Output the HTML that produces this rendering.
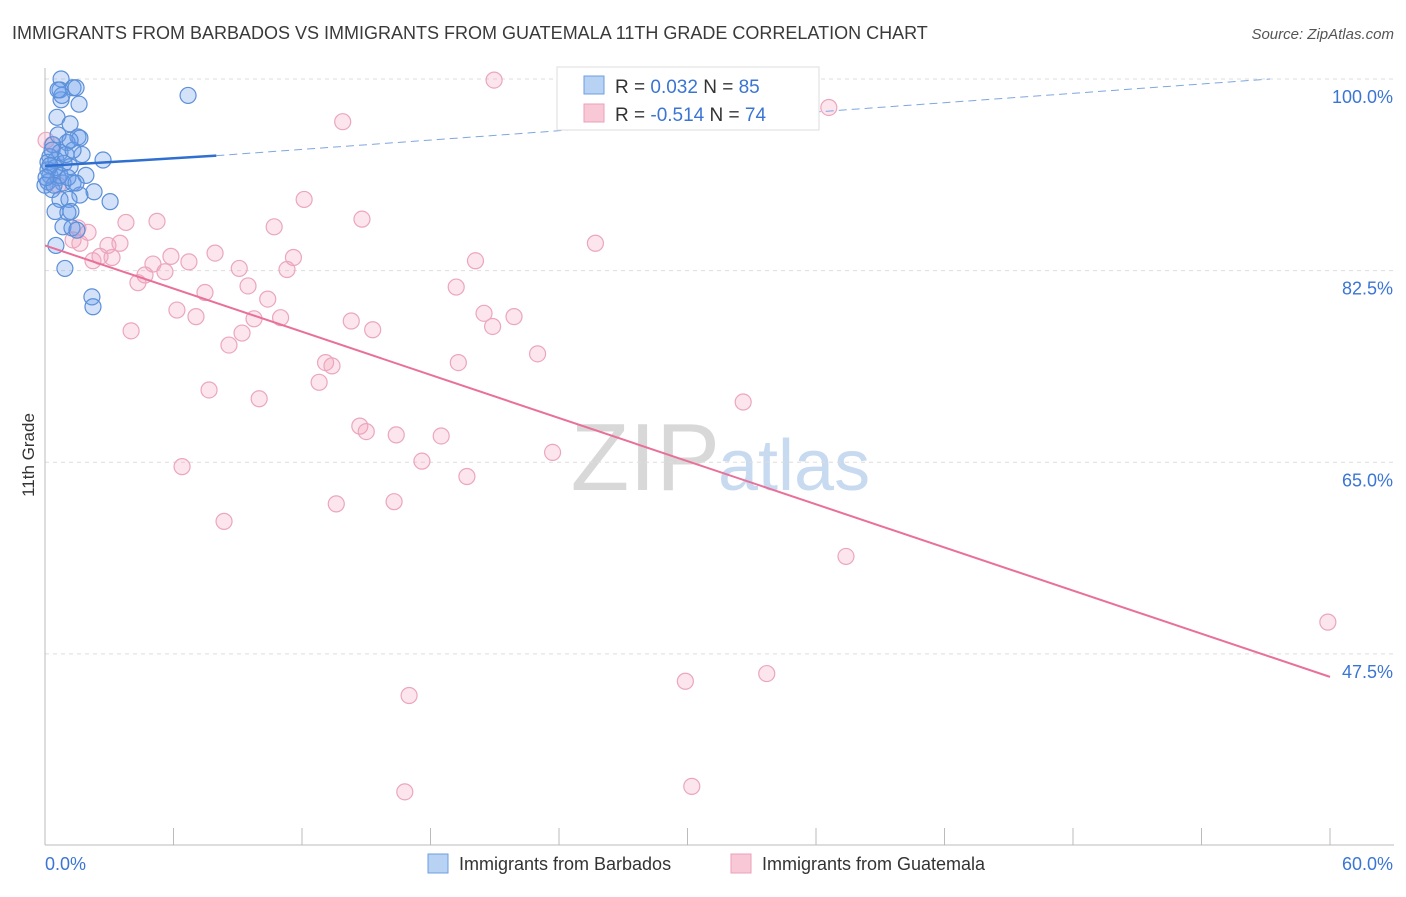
<!DOCTYPE html>
<html><head><meta charset="utf-8"><style>
body{margin:0;background:#fff;font-family:"Liberation Sans",sans-serif;}
svg text{font-family:"Liberation Sans",sans-serif;}
</style></head><body>
<svg id="chart" width="1406" height="892" xmlns="http://www.w3.org/2000/svg">
<text x="12" y="39" font-size="18" fill="#3a3a3a">IMMIGRANTS FROM BARBADOS VS IMMIGRANTS FROM GUATEMALA 11TH GRADE CORRELATION CHART</text>
<text x="1394" y="39" font-size="15" fill="#555" text-anchor="end" font-style="italic">Source: ZipAtlas.com</text>
<text x="720" y="490" font-size="96" fill="#d8d8d8" text-anchor="end" font-family="Liberation Serif">ZIP</text>
<text x="718" y="490" font-size="72" fill="#c8daf0">atlas</text>
<g id="grid"></g>
<g id="axes"></g>
<g id="pts"></g>
<g id="lines"></g>
<text x="34" y="455" font-size="17" fill="#333" text-anchor="middle" transform="rotate(-90 34 455)">11th Grade</text>
<g>
<rect x="557" y="67" width="262" height="63" fill="#fff" stroke="#ddd"/>
<rect x="584" y="76" width="20" height="18" fill="#b8d2f4" stroke="#6d9ee0"/>
<rect x="584" y="104" width="20" height="18" fill="#f8c8d6" stroke="#eba0b8"/>
<text x="615" y="93" font-size="19" fill="#333">R = <tspan fill="#3b75d4">0.032</tspan>   N = <tspan fill="#3b75d4">85</tspan></text>
<text x="615" y="121" font-size="19" fill="#333">R = <tspan fill="#3b75d4">-0.514</tspan>   N = <tspan fill="#3b75d4">74</tspan></text>
</g>
<g>
<rect x="428" y="854" width="20" height="19" fill="#b8d2f4" stroke="#6d9ee0"/>
<text x="459" y="870" font-size="18" fill="#333">Immigrants from Barbados</text>
<rect x="731" y="854" width="20" height="19" fill="#f8c8d6" stroke="#eba0b8"/>
<text x="762" y="870" font-size="18" fill="#333">Immigrants from Guatemala</text>
</g>
</svg>
<script>
const blueX=[0.75,0.70,1.31,1.45,0.75,6.68,1.59,0.56,1.17,1.54,1.63,1.03,0.37,0.70,0.23,1.73,2.71,0.14,0.51,0.89,1.17,1.91,0.23,0.61,0.14,0.84,1.31,0.33,2.29,1.63,0.70,1.12,3.04,0.47,1.07,1.21,0.84,1.26,1.49,0.51,0.93,2.19,2.24,0.14,0.47,0.70,0.0,0.33,0.98,1.31,0.61,0.79,0.42,1.07,1.45,0.61,1.17,0.23,0.05];
const blueY=[100,99.0,99.2,99.2,98.1,98.5,97.7,96.5,95.9,94.7,94.6,94.2,94.0,93.3,92.9,93.1,92.6,92.4,92.6,92.3,92.0,91.2,91.2,91.0,90.6,90.5,90.5,89.9,89.7,89.4,89.0,89.0,88.8,87.9,87.8,87.9,86.5,86.4,86.2,84.8,82.7,80.1,79.2,91.7,91.9,91.2,90.3,93.5,93.1,93.5,94.9,98.5,90.3,91.0,90.5,99.0,94.4,92.1,91.0];
const pinkX=[20.97,36.6,13.9,0.33,12.1,14.8,3.78,5.23,10.7,2.01,1.31,1.63,2.94,3.50,25.7,7.94,5.88,2.57,3.13,2.24,6.72,11.6,20.1,5.04,9.07,11.3,4.67,5.60,4.34,9.48,19.2,7.47,10.4,6.16,7.05,9.76,11.0,20.5,21.9,14.3,20.9,4.02,15.3,9.20,8.59,23.0,13.1,13.4,19.3,12.8,7.66,10.0,32.6,14.7,15.0,16.4,18.5,23.7,17.6,6.40,19.7,13.6,16.3,8.36,37.4,59.9,33.7,29.9,17.0,30.2,16.8,0.05,0.61,1.54];
const pinkY=[99.9,97.4,96.1,94.0,89.0,87.2,86.9,87.0,86.5,86.0,85.3,85.0,84.8,85.0,85.0,84.1,83.8,83.8,83.7,83.4,83.3,83.7,83.4,83.1,82.7,82.6,82.1,82.4,81.4,81.1,81.0,80.5,79.9,78.9,78.3,78.1,78.2,78.6,78.3,77.9,77.4,77.0,77.1,76.8,75.7,74.9,74.1,73.8,74.1,72.3,71.6,70.8,70.5,68.3,67.8,67.5,67.4,65.9,65.1,64.6,63.7,61.2,61.4,59.6,56.4,50.4,45.7,45.0,43.7,35.4,34.9,94.4,90.3,86.4];
const yTicks=[100,82.5,65,47.5];
const yTickLabels=["100.0%","82.5%","65.0%","47.5%"];
const xEnds=["0.0%","60.0%"];
const blueLine=[92.05,93.0];   // at x=0 and x=8
const blueDash=[93.0,100];     // from x=8 to x=57.2
const pinkLine=[84.8,45.4];    // at x=0 and x=60
const NS='http://www.w3.org/2000/svg';
const sx=v=>45+v/60*1285;
const sy=v=>79+(100-v)*10.95;
function mk(p,tag,at){const e=document.createElementNS(NS,tag);for(const k in at)e.setAttribute(k,at[k]);p.appendChild(e);return e;}
const grid=document.getElementById('grid'),axes=document.getElementById('axes'),pts=document.getElementById('pts'),lines=document.getElementById('lines');
yTicks.forEach((t,i)=>{
 const l=mk(grid,'line',{x1:45,x2:1394,y1:sy(t),y2:sy(t),stroke:'#ddd','stroke-dasharray':'4,4'});
 
 
 const tx=mk(axes,'text',{x:1393,y:sy(t)+24,'font-size':18,fill:'#3b75d4','text-anchor':'end'});
 tx.textContent=yTickLabels[i];
 
 
});
const ax=mk(axes,'line',{x1:45,x2:1394,y1:845,y2:845,stroke:'#bbb'});


const ay=mk(axes,'line',{x1:45,x2:45,y1:68,y2:845,stroke:'#bbb'});


for(let i=0;i<=10;i++){
 const t=mk(axes,'line',{x1:sx(i*6),x2:sx(i*6),y1:828,y2:845,stroke:'#bbb'});
 
 
}
const xl0=mk(axes,'text',{x:45,y:870,'font-size':18,fill:'#3b75d4'});xl0.textContent=xEnds[0];


const xl1=mk(axes,'text',{x:1393,y:870,'font-size':18,fill:'#3b75d4','text-anchor':'end'});xl1.textContent=xEnds[1];


pinkX.forEach((x,i)=>{
 const c=mk(pts,'circle',{cx:sx(x),cy:sy(pinkY[i]),r:8,fill:'rgba(244,160,188,0.28)',stroke:'#eba6be','stroke-width':1.2});
 
 
});
blueX.forEach((x,i)=>{
 const c=mk(pts,'circle',{cx:sx(x),cy:sy(blueY[i]),r:8,fill:'rgba(110,160,235,0.3)',stroke:'#5b8fd8','stroke-width':1.2});
 
 
});
const b1=mk(lines,'line',{x1:sx(0),y1:sy(blueLine[0]),x2:sx(8),y2:sy(blueLine[1]),stroke:'#2f6fd0','stroke-width':2.5});


const b2=mk(lines,'line',{x1:sx(8),y1:sy(blueDash[0]),x2:sx(57.2),y2:sy(blueDash[1]),stroke:'#7fa6e0','stroke-width':1,'stroke-dasharray':'8,5'});


const p1=mk(lines,'line',{x1:sx(0),y1:sy(pinkLine[0]),x2:sx(60),y2:sy(pinkLine[1]),stroke:'#e8709a','stroke-width':2});


</script>
</body></html>
